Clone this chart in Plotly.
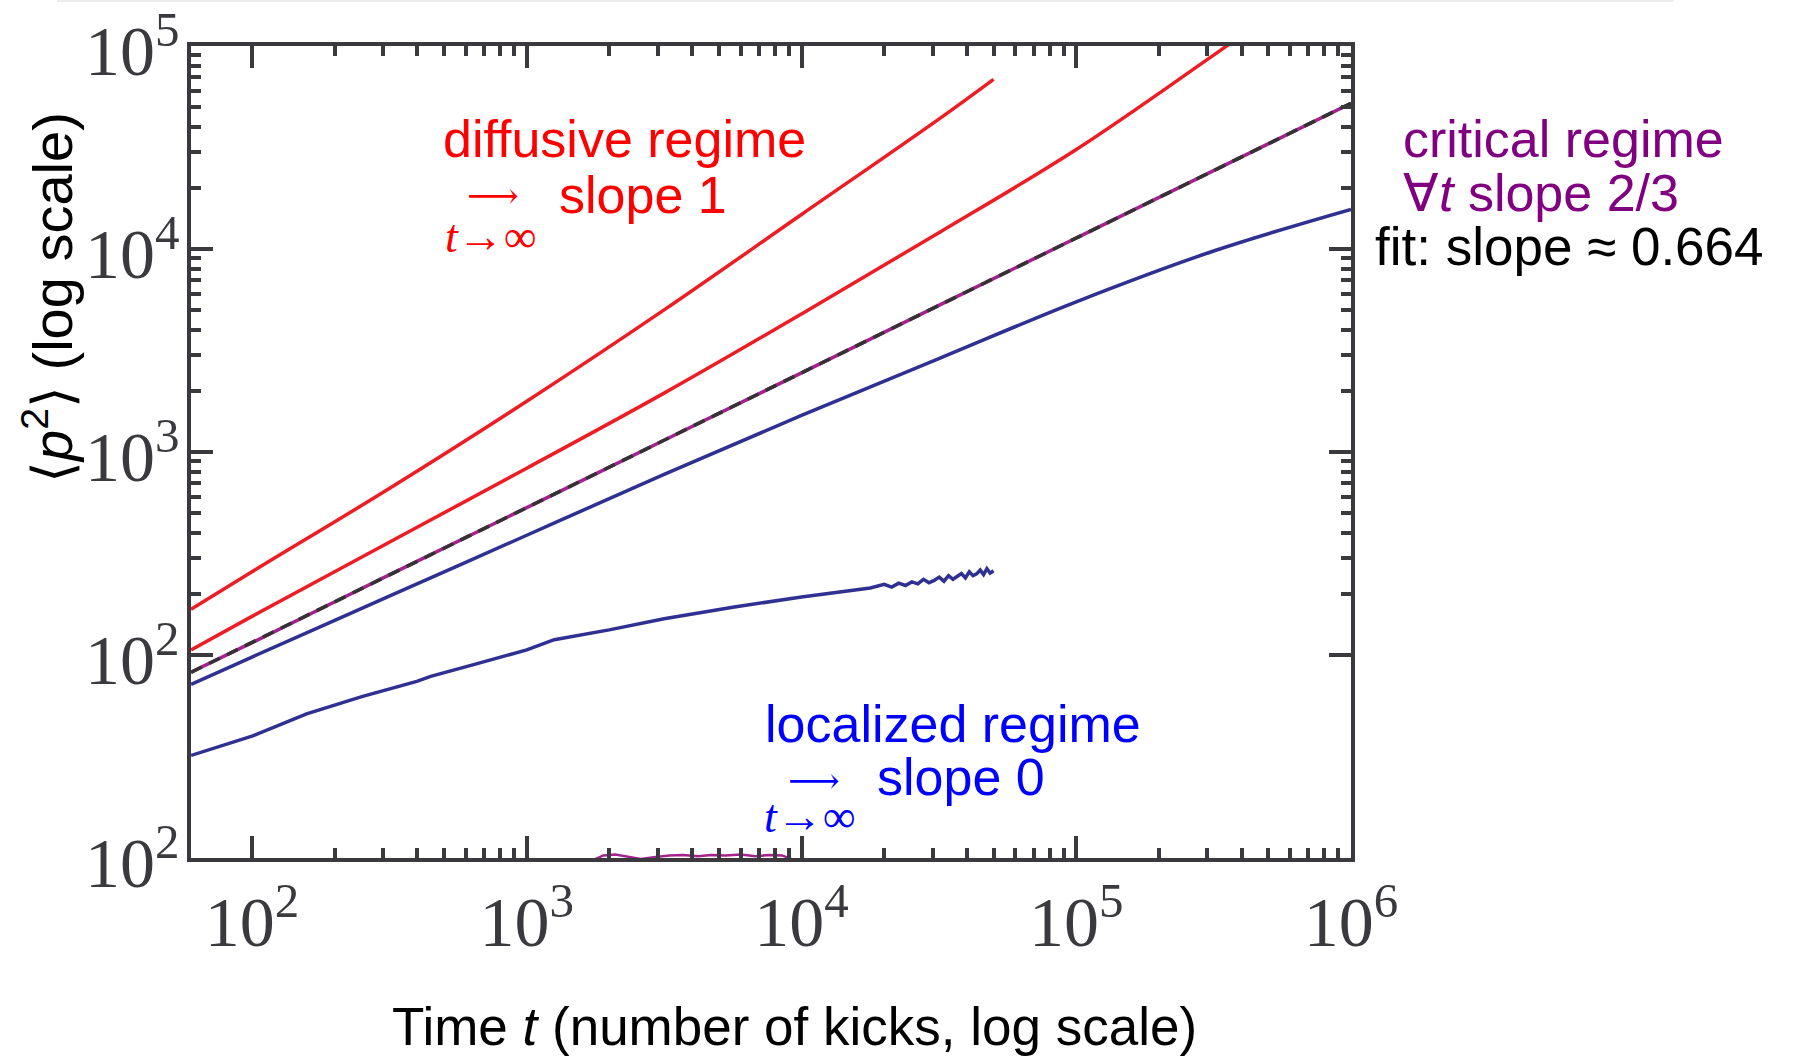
import math
import plotly.graph_objects as go

# ---- data -------------------------------------------------------------
# common time grid (number of kicks)
T = [60, 100, 316, 1000, 3162, 10000, 31623, 100000, 316228, 1000000]

# diffusive, strong kicking (run stops at 5e4 kicks)
DIFF_FAST_T = [60, 100, 316, 1000, 3162, 10000, 31623, 50000]
DIFF_FAST_P = [168, 257, 661, 1778, 5012, 14791, 43652, 68549]

# diffusive, weaker kicking
DIFF_SLOW_P = [106, 155, 359, 832, 1950, 4786, 12023, 30903, 90157, 269153]

# critical point
CRIT_P = [82.2, 115, 248, 532, 1143, 2455, 5272, 11324, 24322, 52240]

# slightly sub-critical
SUB_P = [71.6, 97.7, 195, 389, 776, 1514, 2884, 5495, 9772, 15668]

# localized (run stops at 5e4 kicks, noisy tail)
LOC_T = [60, 100, 158, 251, 398, 447, 631, 1000, 1259, 1995, 3162, 5623, 10000, 17783,
         20000, 21300, 22600, 23900, 25200, 26500, 27800, 29100, 30400, 31700, 33000, 34300,
         35600, 36900, 38200, 39500, 40800, 42100, 43400, 44700, 46000, 47300, 48600, 50000]
LOC_P = [32.0, 39.8, 51.3, 62.4, 74.1, 78.5, 89.1, 106, 119, 133, 151, 172, 193, 214,
         223, 216, 226, 220, 229, 224, 236, 227, 233, 242, 231, 246,
         236, 244, 252, 240, 257, 246, 251, 262, 249, 266, 253, 260]

# deep-localized run hugging the bottom of the frame
LOW_T = [1700, 1900, 2100, 2300, 2600, 2900, 3300, 3700, 4200, 4700, 5300, 6000, 6800, 7600, 8500, 9500]
LOW_P = [9.6, 10.3, 10.4, 10.2, 9.9, 10.1, 10.3, 10.35, 10.2, 10.35, 10.3, 10.4, 10.2, 10.35, 10.3, 9.7]

# power-law fit of the critical curve
FIT_SLOPE = 0.664
FIT_PREFACTOR = 5.42
FIT_T = [60, 1000000]

X_TICKS = [100, 1000, 10000, 100000, 1000000]
X_TICKTEXT = ["10<sup>2</sup>", "10<sup>3</sup>", "10<sup>4</sup>", "10<sup>5</sup>", "10<sup>6</sup>"]
Y_TICKS = [10, 100, 1000, 10000, 100000]
Y_TICKTEXT = ["10<sup>2</sup>", "10<sup>2</sup>", "10<sup>3</sup>", "10<sup>4</sup>", "10<sup>5</sup>"]

# ---- styling ----------------------------------------------------------
RED = "#ee1d24"
NAVY = "#2e3192"
MAGENTA = "#a3228d"
AXIS = "#3a3a3e"
SANS = "Liberation Sans, Arial, sans-serif"
SERIF = "Liberation Serif, Times New Roman, serif"
MATH = "DejaVu Serif, serif"

W, H = 1798, 1059
L, R, TOP, BOT = 191, 1351, 46, 858


def fx(x):
    return (x - L) / (R - L)


def fy(y):
    return (BOT - y) / (BOT - TOP)


fig = go.Figure()

def add_line(x, y, color, width=3.5, dash=None, shape="linear"):
    fig.add_trace(go.Scatter(x=x, y=y, mode="lines",
                             line=dict(color=color, width=width, dash=dash, shape=shape),
                             hoverinfo="skip", showlegend=False))

add_line(LOW_T, LOW_P, MAGENTA, 2.5)
add_line(LOC_T, LOC_P, NAVY)
add_line(T, SUB_P, NAVY, shape="spline")
add_line(T, CRIT_P, MAGENTA, shape="spline")
fit_p = [FIT_PREFACTOR * t ** FIT_SLOPE for t in FIT_T]
add_line(FIT_T, fit_p, "#333333", 3.5, "12px,8px")
add_line(T, DIFF_SLOW_P, RED, shape="spline")
add_line(DIFF_FAST_T, DIFF_FAST_P, RED, shape="spline")

minor_x = [m * 10 ** d for d in range(2, 6) for m in range(2, 10)]
minor_y = [m * 10 ** d for d in range(2, 5) for m in range(2, 10)]

axis_common = dict(
    type="log", showgrid=False, zeroline=False, automargin=False,
    showline=True, linewidth=4, linecolor=AXIS, mirror="ticks",
    ticks="inside", ticklen=22, tickwidth=4, tickcolor=AXIS,
    tickmode="array", ticklabeloverflow="allow",
    tickfont=dict(family=SERIF, size=70, color=AXIS),
)

fig.update_xaxes(
    range=[1.778, 6], tickvals=X_TICKS, ticktext=X_TICKTEXT,
    minor=dict(tickmode="array", tickvals=minor_x, ticks="inside",
               ticklen=10, tickwidth=4, tickcolor=AXIS, showgrid=False),
    **axis_common,
)
# y labels are placed as annotations below so they can sit close to the frame
fig.update_yaxes(
    range=[1, 5], tickvals=Y_TICKS, showticklabels=False,
    minor=dict(tickmode="array", tickvals=minor_y, ticks="inside",
               ticklen=10, tickwidth=4, tickcolor=AXIS, showgrid=False),
    **axis_common,
)

annotations = []

for v, lab in zip(Y_TICKS, Y_TICKTEXT):
    annotations.append(dict(
        x=fx(182), xref="paper", y=math.log10(v), yref="y", text=lab,
        showarrow=False, xanchor="right", yanchor="middle",
        font=dict(family=SERIF, size=70, color=AXIS)))


def text(x, y, s, color, size=52, family=SANS, xanchor="left", angle=0):
    annotations.append(dict(
        x=fx(x), y=fy(y), xref="paper", yref="paper", text=s, showarrow=False,
        xanchor=xanchor, yanchor="middle", textangle=angle,
        font=dict(family=family, size=size, color=color)))

# diffusive label
text(441, 139, "diffusive regime", "#ff0000")
text(493, 195, "⟶", "#ff0000", 36, MATH, "center")
text(557, 195, "slope 1", "#ff0000")
text(491, 236, "<i>t</i>→∞", "#ff0000", 46, SERIF, "center")

# critical label
text(1401, 139, "critical regime", "#800080")
text(1401, 193, "∀<i>t</i> slope 2/3", "#800080")
text(1373, 247, "fit: slope ≈ 0.664", "#000000", 53)

# localized label
text(763, 724, "localized regime", "#0000ff")
text(814, 780, "⟶", "#0000ff", 36, MATH, "center")
text(875, 777, "slope 0", "#0000ff")
text(810, 816, "<i>t</i>→∞", "#0000ff", 46, SERIF, "center")

# axis titles
text(794, 1026, "Time <i>t</i> (number of kicks, log scale)", "#000000", 53, SANS, "center")
text(48, 298, "⟨<i>p</i><sup>2</sup>⟩ (log scale)", "#000000", 56, SANS, "center", -90)

fig.update_layout(
    width=W, height=H,
    margin=dict(l=L, r=W - R, t=TOP, b=H - BOT, pad=0, autoexpand=False),
    paper_bgcolor="white", plot_bgcolor="white",
    showlegend=False,
    annotations=annotations,
    shapes=[dict(type="line", xref="paper", yref="paper",
                 x0=fx(57), x1=fx(1674), y0=fy(1), y1=fy(1),
                 line=dict(color="#ececec", width=2))],
)

fig.write_html("out.html")
